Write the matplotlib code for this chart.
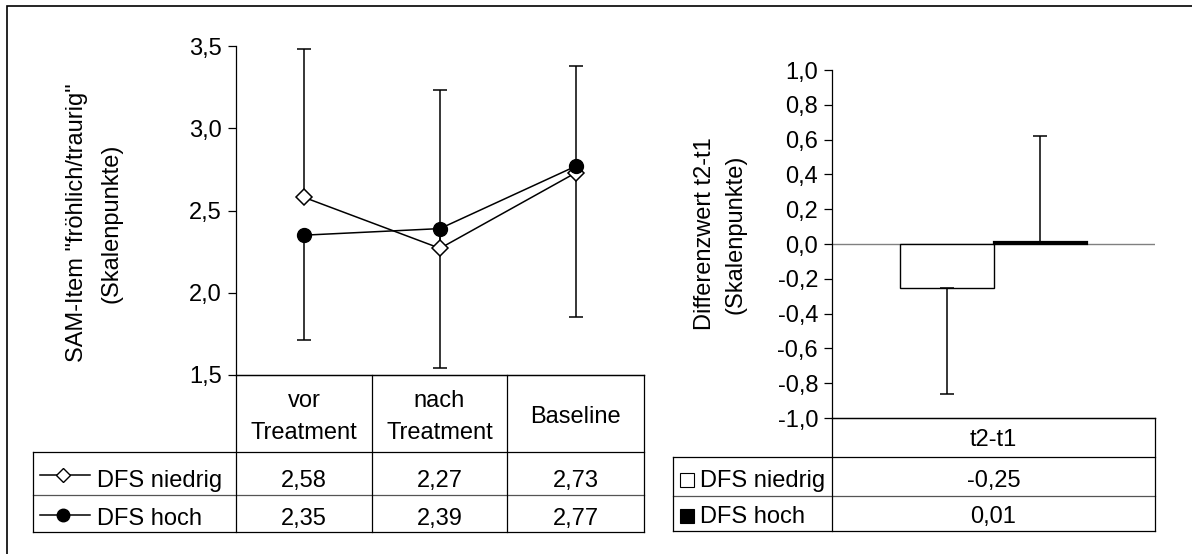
import matplotlib
matplotlib.use("Agg")
import matplotlib.pyplot as plt
from matplotlib.lines import Line2D
from matplotlib.patches import Rectangle
import numpy as np

plt.rcParams['font.family'] = ['Liberation Sans', 'DejaVu Sans']

# ---------------- data ----------------
categories = ["vor\nTreatment", "nach\nTreatment", "Baseline"]
series_names = ["DFS niedrig", "DFS hoch"]
niedrig = [2.58, 2.27, 2.73]
hoch = [2.35, 2.39, 2.77]
niedrig_err_plus = [0.90, 0.96, 0.65]
hoch_err_minus = [0.64, 0.85, 0.92]
left_yticks = [1.5, 2.0, 2.5, 3.0, 3.5]
left_ylabel = ['SAM-Item "fröhlich/traurig"', '(Skalenpunkte)']

diff_category = "t2-t1"
diff_values = [-0.25, 0.01]
diff_err = [0.61, 0.61]   # niedrig: minus, hoch: plus
right_yticks = [-1.0, -0.8, -0.6, -0.4, -0.2, 0.0, 0.2, 0.4, 0.6, 0.8, 1.0]
right_ylabel = ['Differenzwert t2-t1', '(Skalenpunkte)']

W, H = 1192, 554
FS = 17


def fx(px):
    return px / W


def fy(py):
    return 1 - py / H


def fmt(v, nd=1):
    return f"{v:.{nd}f}".replace(".", ",")


fig = plt.figure(figsize=(W / 100, H / 100), dpi=100)
fig.patch.set_facecolor("white")

# outer frame
fig.add_artist(Rectangle((fx(7), fy(560)), fx(1200 - 7), fy(6) - fy(560),
                         transform=fig.transFigure, fill=False,
                         edgecolor="black", lw=1.2))


def fline(x0, y0, x1, y1, color="black", lw=0.9):
    fig.add_artist(Line2D([fx(x0), fx(x1)], [fy(y0), fy(y1)],
                          transform=fig.transFigure, color=color, lw=lw))


def btext(x, ybase, s, ha="center"):
    fig.text(fx(x), fy(ybase), s, ha=ha, va="baseline", fontsize=FS)


# ---------------- left chart ----------------
L0, L1, T0, T1 = 236, 644, 46, 375
axL = fig.add_axes([fx(L0), fy(T1), fx(L1 - L0), fy(T0) - fy(T1)])
xs = np.arange(len(categories))
axL.set_xlim(-0.5, len(categories) - 0.5)
axL.set_ylim(left_yticks[0], left_yticks[-1])
axL.set_yticks(left_yticks)
axL.set_yticklabels([fmt(v) for v in left_yticks], fontsize=FS)
axL.set_xticks([])
for s in ["top", "right"]:
    axL.spines[s].set_visible(False)
axL.spines["left"].set_linewidth(0.9)
axL.spines["bottom"].set_linewidth(0.9)
axL.tick_params(axis="y", direction="out", length=6, width=0.9, pad=4)

axL.errorbar(xs, niedrig, yerr=[np.zeros(3), niedrig_err_plus], fmt="none",
             ecolor="black", elinewidth=1.1, capsize=5.2, capthick=1.1, zorder=2)
axL.errorbar(xs, hoch, yerr=[hoch_err_minus, np.zeros(3)], fmt="none",
             ecolor="black", elinewidth=1.1, capsize=5.2, capthick=1.1, zorder=2)
axL.plot(xs, niedrig, color="black", lw=1.1, marker="D", markersize=8,
         markerfacecolor="white", markeredgecolor="black", markeredgewidth=1.1, zorder=3)
axL.plot(xs, hoch, color="black", lw=1.1, marker="o", markersize=10,
         markerfacecolor="black", markeredgecolor="black", zorder=4)

# left table
cols = [236, 372, 507, 644]
rows = [375, 452, 495, 532]
row_base = [487, 525]
lab_x0 = 33
fline(L0, rows[0], L1, rows[0])
fline(lab_x0, rows[1], L1, rows[1])
fline(lab_x0, rows[2], L1, rows[2], color="#555555")
fline(lab_x0, rows[3], L1, rows[3])
fline(lab_x0, rows[1], lab_x0, rows[3])
for c in cols:
    fline(c, rows[0], c, rows[3])
for i, cat in enumerate(categories):
    cx = (cols[i] + cols[i + 1]) / 2
    parts = cat.split("\n")
    n = len(parts)
    for k, p in enumerate(parts):
        btext(cx, 423 + (k - (n - 1) / 2) * 32, p)
    btext(cx, row_base[0], fmt(niedrig[i], 2))
    btext(cx, row_base[1], fmt(hoch[i], 2))
# legend keys
for r, (name, mk, ms, mfc) in enumerate([(series_names[0], "D", 7, "white"),
                                          (series_names[1], "o", 9, "black")]):
    yc = (rows[1 + r] + rows[2 + r]) / 2 + 1
    fig.add_artist(Line2D([fx(40), fx(90)], [fy(yc), fy(yc)], transform=fig.transFigure,
                          color="black", lw=1.1))
    fig.add_artist(Line2D([fx(63)], [fy(yc)], transform=fig.transFigure, marker=mk,
                          markersize=ms, markerfacecolor=mfc, markeredgecolor="black",
                          markeredgewidth=1.0, lw=0))
    btext(97, row_base[r], name, ha="left")

fig.text(fx(77), fy(223), left_ylabel[0], rotation=90, ha="center", va="center",
         fontsize=FS)
fig.text(fx(111), fy(223), left_ylabel[1], rotation=90, ha="center", va="center",
         fontsize=FS)

# ---------------- right chart ----------------
R0, R1, U0, U1 = 832, 1155, 70, 418
axR = fig.add_axes([fx(R0), fy(U1), fx(R1 - R0), fy(U0) - fy(U1)])
axR.set_xlim(-0.5, 0.5)
axR.set_ylim(right_yticks[0], right_yticks[-1])
axR.set_yticks(right_yticks)
axR.set_yticklabels([fmt(v) for v in right_yticks], fontsize=FS)
axR.set_xticks([])
for s in ["top", "right"]:
    axR.spines[s].set_visible(False)
axR.spines["left"].set_linewidth(0.9)
axR.spines["bottom"].set_linewidth(0.9)
axR.tick_params(axis="y", direction="out", length=6, width=0.9, pad=4)
axR.axhline(0, color="#808080", lw=1.0, zorder=1)

bw = 0.288
bx = [-bw / 2, bw / 2]
axR.bar(bx[0], diff_values[0], width=bw, color="white", edgecolor="black", lw=1.0, zorder=2)
axR.bar(bx[1], diff_values[1], width=bw, color="black", edgecolor="black", lw=1.6, zorder=2)
axR.errorbar([bx[0]], [diff_values[0]], yerr=[[diff_err[0]], [0]], fmt="none",
             ecolor="black", elinewidth=1.1, capsize=5.2, capthick=1.1, zorder=3)
axR.errorbar([bx[1]], [diff_values[1]], yerr=[[0], [diff_err[1]]], fmt="none",
             ecolor="black", elinewidth=1.1, capsize=5.2, capthick=1.1, zorder=3)

# right table
rrows = [418, 457, 496, 531]
rrow_base = [487, 523]
rlab_x0 = 673
fline(R0, rrows[0], R1, rrows[0])
fline(rlab_x0, rrows[1], R1, rrows[1])
fline(rlab_x0, rrows[2], R1, rrows[2], color="#555555")
fline(rlab_x0, rrows[3], R1, rrows[3])
fline(rlab_x0, rrows[1], rlab_x0, rrows[3])
fline(R0, rrows[0], R0, rrows[3])
fline(R1, rrows[0], R1, rrows[3])
cxR = (R0 + R1) / 2
btext(cxR, 446, diff_category)
for r, (name, fc) in enumerate([(series_names[0], "white"), (series_names[1], "black")]):
    yc = rrow_base[r] - 7
    fig.add_artist(Line2D([fx(687)], [fy(yc)], transform=fig.transFigure, marker="s",
                          markersize=10, markerfacecolor=fc, markeredgecolor="black",
                          markeredgewidth=0.8, lw=0))
    btext(700, rrow_base[r], name, ha="left")
    btext(cxR, rrow_base[r], fmt(diff_values[r], 2))

fig.text(fx(705), fy(234), right_ylabel[0], rotation=90, ha="center", va="center",
         fontsize=FS)
fig.text(fx(736), fy(234), right_ylabel[1], rotation=90, ha="center", va="center",
         fontsize=FS)

fig.savefig("out.png", dpi=100, facecolor="white")
